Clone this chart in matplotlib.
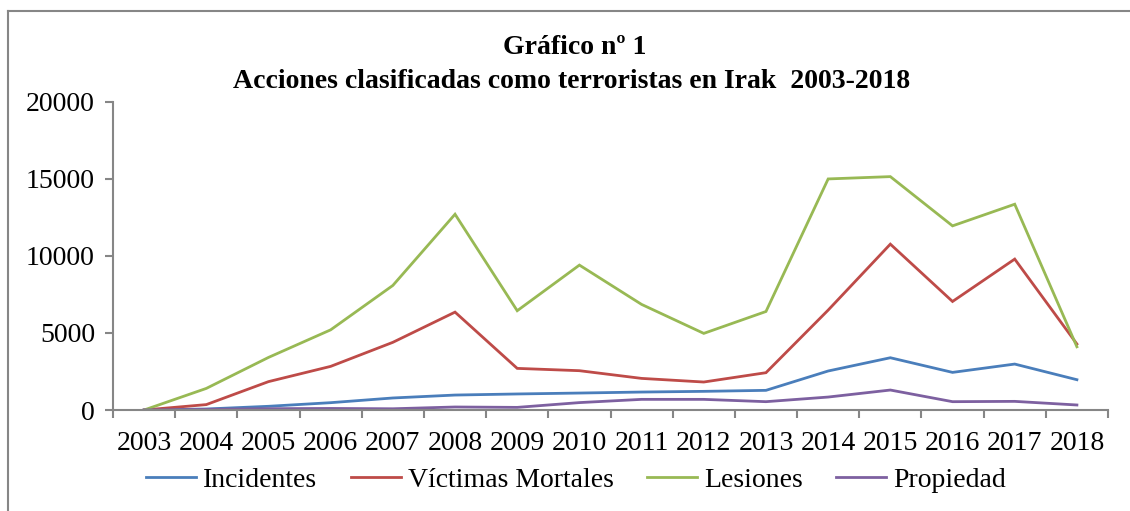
import matplotlib
matplotlib.use("Agg")
import matplotlib.pyplot as plt
from matplotlib.lines import Line2D
import numpy as np

years = ["2003", "2004", "2005", "2006", "2007", "2008", "2009", "2010",
         "2011", "2012", "2013", "2014", "2015", "2016", "2017", "2018"]
incidentes = [0, 65, 240, 475, 780, 970, 1040, 1100, 1165, 1210, 1275, 2530, 3390, 2440, 2980, 1965]
victimas = [0, 350, 1840, 2830, 4390, 6350, 2700, 2550, 2050, 1815, 2420, 6480, 10760, 7040, 9790, 4280]
lesiones = [0, 1400, 3410, 5200, 8080, 12700, 6440, 9400, 6850, 4970, 6390, 14990, 15140, 11945, 13350, 4100]
propiedad = [0, 40, 85, 100, 80, 195, 170, 480, 690, 690, 540, 840, 1295, 540, 560, 325]

series_names = ["Incidentes", "Víctimas Mortales", "Lesiones", "Propiedad"]
colors = ["#4A7EBB", "#BE4B48", "#98B954", "#7D60A0"]

plt.rcParams['font.family'] = ['Liberation Serif', 'DejaVu Serif']

fig = plt.figure(figsize=(11.3, 5.11), dpi=100)
W, H = 1130, 511
ax = fig.add_axes([113 / W, 1 - 410 / H, (1108 - 113) / W, (410 - 101.7) / H])

x = np.arange(len(years))
for vals, name, c in zip([incidentes, victimas, lesiones, propiedad], series_names, colors):
    ax.plot(x, vals, color=c, lw=2.0, label=name, solid_joinstyle='miter')

ax.set_xlim(-0.5, len(years) - 0.5)
ax.set_ylim(0, 20000)
ax.set_yticks([0, 5000, 10000, 15000, 20000])
ax.set_yticklabels(["0", "5000", "10000", "15000", "20000"], fontsize=20)
ax.set_xticks(np.arange(-0.5, len(years), 1.0))
ax.set_xticklabels([])
ax.set_xticks(x, minor=True)
ax.set_xticklabels(years, minor=True, fontsize=20)
ax.tick_params(axis='x', which='minor', length=0, pad=15)
ax.tick_params(axis='x', which='major', length=6, color='#868686', width=1.5)
ax.tick_params(axis='y', which='major', length=6, color='#868686', width=1.5, pad=7)

for s in ['top', 'right']:
    ax.spines[s].set_visible(False)
for s in ['left', 'bottom']:
    ax.spines[s].set_color('#868686')
    ax.spines[s].set_linewidth(1.5)

fig.text(575 / W, 1 - 48 / H, "Gráfico nº 1", ha='center', va='center',
         fontsize=20, fontweight='bold')
fig.text(572 / W, 1 - 81 / H, "Acciones clasificadas como terroristas en Irak  2003-2018",
         ha='center', va='center', fontsize=20, fontweight='bold')

leg = fig.legend(loc='center', bbox_to_anchor=(576 / W, 1 - 480 / H), ncol=4,
                 frameon=False, fontsize=20, handlelength=1.8, handletextpad=0.25,
                 columnspacing=1.2)

# outer chart frame (top and left visible)
fig.add_artist(Line2D([8 / W, 1.0], [1 - 11 / H, 1 - 11 / H], transform=fig.transFigure,
                      color='#868686', lw=1.5))
fig.add_artist(Line2D([8 / W, 8 / W], [1 - 11 / H, 0], transform=fig.transFigure,
                      color='#868686', lw=1.5))

fig.savefig("out.png", dpi=100)
